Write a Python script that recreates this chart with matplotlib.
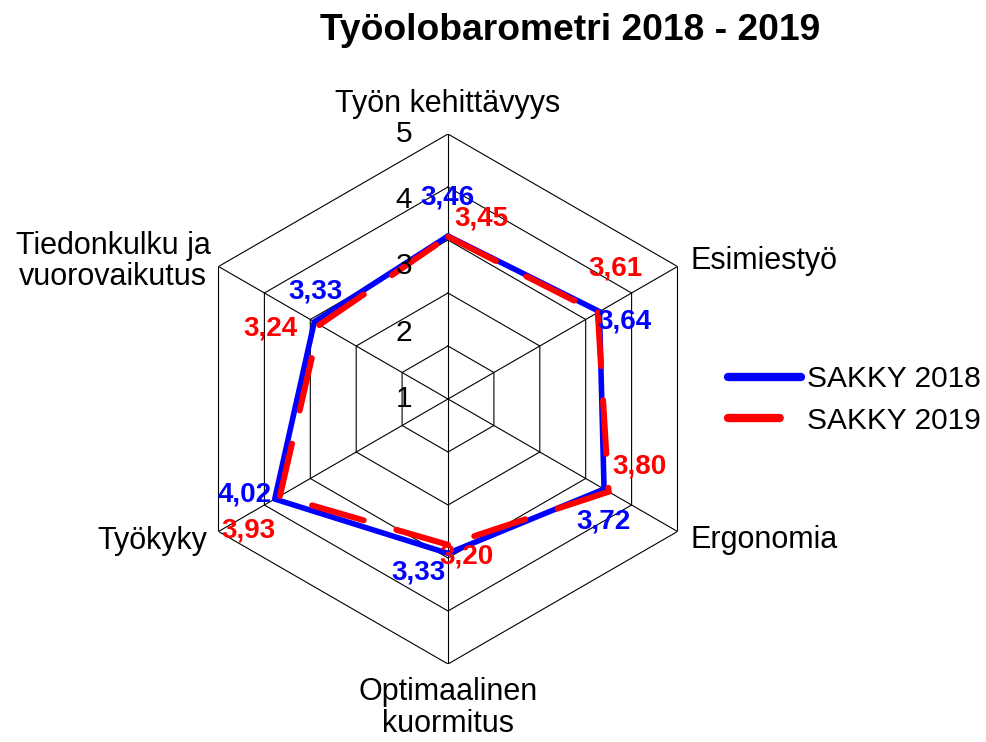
import numpy as np
import matplotlib
matplotlib.use("Agg")
import matplotlib.pyplot as plt

plt.rcParams['font.family'] = ['Liberation Sans', 'DejaVu Sans']

categories = ["Työn kehittävyys", "Esimiestyö", "Ergonomia",
              "Optimaalinen\nkuormitus", "Työkyky", "Tiedonkulku ja\nvuorovaikutus"]
sakky_2018 = [3.46, 3.64, 3.72, 3.33, 4.02, 3.33]
sakky_2019 = [3.45, 3.61, 3.80, 3.20, 3.93, 3.24]
series_names = ["SAKKY 2018", "SAKKY 2019"]
radial_ticks = [1, 2, 3, 4, 5]
title = "Työolobarometri 2018 - 2019"

W, H = 987, 742
fig = plt.figure(figsize=(W / 100, H / 100), dpi=100)
cx, cy, R = 448, 399, 265
ax = fig.add_axes([(cx - R) / W, (H - cy - R) / H, 2 * R / W, 2 * R / H], projection='polar')
ax.set_theta_offset(np.pi / 2)
ax.set_theta_direction(-1)
rmin, rmax = radial_ticks[0], radial_ticks[-1]
ax.set_ylim(rmin, rmax)
ax.set_axis_off()

n = len(categories)
theta = np.arange(n) * 2 * np.pi / n
theta_c = np.append(theta, theta[0])

# hexagonal grid (5 rings evenly spaced between min and max)
for r in np.linspace(rmin, rmax, 6)[1:]:
    ax.plot(theta_c, [r] * (n + 1), color='black', lw=0.8, zorder=1)
for t in theta:
    ax.plot([t, t], [rmin, rmax], color='black', lw=0.8, zorder=1)

# series
v18 = np.append(sakky_2018, sakky_2018[0])
v19 = np.append(sakky_2019, sakky_2019[0])
l1, = ax.plot(theta_c, v18, color='#0000ff', lw=4.0, solid_joinstyle='round',
              solid_capstyle='round', zorder=3, label=series_names[0])
red_lines = []
for i in range(n):
    ln, = ax.plot(theta_c[i:i + 2], v19[i:i + 2], color='#ff0000', lw=4.3, zorder=4,
                  dash_capstyle='round', label=series_names[1] if i == 0 else None)
    ln.set_dashes([9.0, 5.7])
    red_lines.append(ln)
l2 = red_lines[0]

# radial tick labels
for v in radial_ticks:
    ax.annotate(str(v), (0, v), xytext=(-44, 0), textcoords='offset pixels',
                ha='center', va='center', fontsize=21.5, color='black', zorder=5)

# category labels
cat_off = [(0, 30, 'center'), (13, 5, 'left'), (13, -9, 'left'),
           (0, -44, 'center'), (-11, -9, 'right'), (-8, 5, 'right')]
for t, lab, (dx, dy, ha) in zip(theta, categories, cat_off):
    ax.annotate(lab, (t, rmax), xytext=(dx, dy), textcoords='offset pixels',
                ha=ha, va='center', multialignment='center', fontsize=22,
                color='black', linespacing=1.05)

# data labels
off18 = [(-1, 39), (25, -10), (-1, -32), (-30, -19), (-30, 5), (1, 30)]
off19 = [(33, 18), (18, 44), (31, 25), (18, -12), (-31, -34), (-49, -4)]
for t, v, (dx, dy) in zip(theta, sakky_2018, off18):
    ax.annotate(f"{v:.2f}".replace('.', ','), (t, v), xytext=(dx, dy),
                textcoords='offset pixels', ha='center', va='center',
                fontsize=20, fontweight='bold', color='#0000ff', zorder=6)
for t, v, (dx, dy) in zip(theta, sakky_2019, off19):
    ax.annotate(f"{v:.2f}".replace('.', ','), (t, v), xytext=(dx, dy),
                textcoords='offset pixels', ha='center', va='center',
                fontsize=20, fontweight='bold', color='#ff0000', zorder=6)

fig.text(570 / W, 1 - 30 / H, title, ha='center', va='center',
         fontsize=26.8, fontweight='bold')

leg = fig.legend(handles=[l1, l2], loc='center left',
                 bbox_to_anchor=(728 / W, 1 - 400 / H), frameon=False,
                 fontsize=21.5, handlelength=2.45, handletextpad=0.2,
                 labelspacing=0.45, borderpad=0, borderaxespad=0)
hl = leg.get_lines()
for h in hl:
    h.set_linewidth(6)
    h.set_solid_capstyle('round')
    h.set_dash_capstyle('round')
hl[1].set_dashes([6.2, 10])

fig.savefig("out.png", dpi=100)
